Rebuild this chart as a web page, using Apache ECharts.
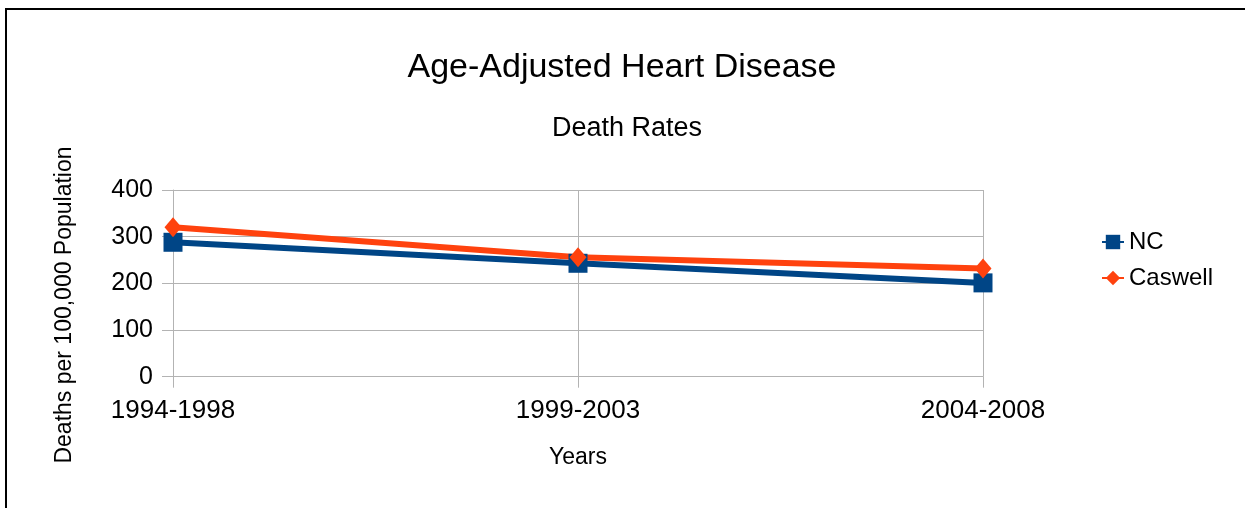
<!DOCTYPE html>
<html>
<head>
<meta charset="utf-8">
<script src="https://cdn.jsdelivr.net/npm/echarts@6/dist/echarts.min.js"></script>
<style>
  html, body { margin: 0; padding: 0; background: #fff; }
  #chart { width: 1245px; height: 508px; }
</style>
</head>
<body>
<div id="chart"></div>
<script>
var years = ['1994-1998', '1999-2003', '2004-2008'];
var ncRates = [288, 243, 201];
var caswellRates = [320, 256, 232];

var dom = document.getElementById('chart');
var myChart = echarts.init(dom);
var font = 'Liberation Sans, Arial, sans-serif';
var gridColor = '#b3b3b3';

var option = {
    animation: false,
    textStyle: { fontFamily: font },
    title: [
        {
            text: 'Age-Adjusted Heart Disease',
            left: 617, top: 46, textAlign: 'center',
            textStyle: { fontSize: 34, fontWeight: 'normal', color: '#000', fontFamily: font }
        },
        {
            text: 'Death Rates',
            left: 622, top: 110, textAlign: 'center',
            textStyle: { fontSize: 27, fontWeight: 'normal', color: '#000', fontFamily: font }
        }
    ],
    legend: {
        orient: 'vertical',
        left: 1096, top: 225,
        itemWidth: 22, itemHeight: 18, itemGap: 12,
        textStyle: { fontSize: 24, color: '#000', fontFamily: font },
        data: ['NC', 'Caswell']
    },
    grid: { left: 173, right: 262, top: 190, bottom: 131.3 },
    xAxis: {
        type: 'category',
        data: years,
        boundaryGap: false,
        name: 'Years',
        nameLocation: 'middle',
        nameGap: 69,
        nameTextStyle: { fontSize: 23, color: '#000', fontFamily: font },
        axisLine: { lineStyle: { color: gridColor, width: 1 } },
        axisTick: { show: true, length: 11, lineStyle: { color: gridColor } },
        axisLabel: { fontSize: 26, color: '#000', margin: 21, fontFamily: font },
        splitLine: { show: true, lineStyle: { color: gridColor, width: 1 } }
    },
    yAxis: {
        type: 'value',
        min: 0, max: 400, interval: 100,
        axisLine: { show: true, lineStyle: { color: gridColor, width: 1 } },
        axisTick: { show: true, length: 11, lineStyle: { color: gridColor } },
        axisLabel: { fontSize: 25, color: '#000', margin: 20, fontFamily: font },
        splitLine: { show: true, lineStyle: { color: gridColor, width: 1 } }
    },
    graphic: [
        {
            type: 'rect',
            shape: { x: 6, y: 9, width: 1400, height: 700 },
            style: { fill: 'none', stroke: '#000', lineWidth: 2 },
            silent: true
        },
        {
            type: 'text',
            x: 65, y: 305,
            rotation: Math.PI / 2,
            style: {
                text: 'Deaths per 100,000 Population',
                font: '23px ' + font,
                fill: '#000',
                align: 'center',
                verticalAlign: 'middle'
            }
        }
    ],
    series: [
        {
            name: 'NC',
            type: 'line',
            data: ncRates,
            symbol: 'rect',
            symbolSize: 19,
            itemStyle: { color: '#004586' },
            lineStyle: { color: '#004586', width: 6 }
        },
        {
            name: 'Caswell',
            type: 'line',
            data: caswellRates,
            symbol: 'diamond',
            symbolSize: [17, 20],
            itemStyle: { color: '#ff420e' },
            lineStyle: { color: '#ff420e', width: 6 }
        }
    ]
};

if (option && typeof option === 'object') {
    myChart.setOption(option, true);
}
</script>
</body>
</html>
